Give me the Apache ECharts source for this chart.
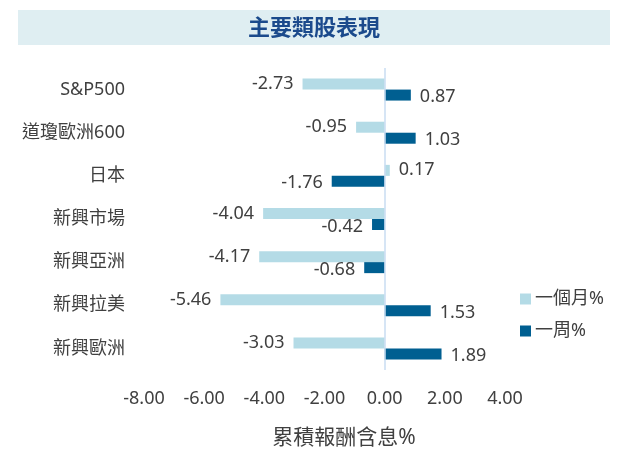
<!DOCTYPE html>
<html>
<head>
<meta charset="utf-8">
<script src="https://cdn.jsdelivr.net/npm/echarts@6/dist/echarts.min.js"></script>
<style>html,body{margin:0;padding:0;background:#fff}#c{width:628px;height:456px}</style>
</head>
<body>
<div id="c"></div>
<script>
const categories = ['S&P500', '道瓊歐洲600', '日本', '新興市場', '新興亞洲', '新興拉美', '新興歐洲'];
const monthValues = [-2.73, -0.95, 0.17, -4.04, -4.17, -5.46, -3.03];
const weekValues = [0.87, 1.03, -1.76, -0.42, -0.68, 1.53, 1.89];
const seriesNames = ['一個月%', '一周%'];
const xTicks = { min: -8, max: 4, interval: 2 };
const titleText = '主要類股表現';
const axisTitle = '累積報酬含息%';

const FONT = '"Noto Sans", "Noto Sans CJK TC", sans-serif';
const TXT = '#404040';

function mkData(vals) {
  return vals.map(v => ({
    value: v,
    label: { position: v < 0 ? 'left' : 'right' }
  }));
}

const chart = echarts.init(document.getElementById('c'), null, { renderer: 'canvas' });
chart.setOption({
  animation: false,
  backgroundColor: '#ffffff',
  title: {
    text: titleText,
    left: 'center',
    top: 13,
    textStyle: { fontFamily: FONT, fontSize: 22, fontWeight: 'bold', color: '#1b4a8c' }
  },
  graphic: [
    { type: 'rect', z: -1, shape: { x: 18, y: 10, width: 592, height: 35 }, style: { fill: '#dfeef2' } },
    { type: 'text', x: 344, y: 438, style: { text: axisTitle, font: '21px ' + FONT, fill: TXT, align: 'center', verticalAlign: 'middle' } }
  ],
  legend: {
    orient: 'vertical',
    left: 515,
    top: 285,
    itemWidth: 11,
    itemHeight: 11,
    itemGap: 14,
    icon: 'rect',
    textStyle: { fontFamily: FONT, fontSize: 18, color: TXT, padding: [0, 0, 0, -1] },
    data: seriesNames
  },
  grid: { left: 144, right: 123, top: 68, bottom: 86 },
  xAxis: {
    type: 'value',
    min: xTicks.min,
    max: xTicks.max,
    interval: xTicks.interval,
    axisLine: { show: false },
    axisTick: { show: false },
    splitLine: { show: false },
    axisLabel: {
      margin: 20,
      fontFamily: FONT, fontSize: 18, color: TXT,
      formatter: v => v.toFixed(2)
    }
  },
  yAxis: {
    type: 'category',
    inverse: true,
    data: categories,
    axisLine: { show: false },
    axisTick: { show: false },
    axisLabel: { margin: 19, fontFamily: FONT, fontSize: 18, color: TXT }
  },
  series: [
    {
      name: seriesNames[0],
      type: 'bar',
      data: mkData(monthValues),
      barWidth: 11,
      barGap: '0%',
      itemStyle: { color: '#b4dbe6' },
      label: { show: true, distance: 9, fontFamily: FONT, fontSize: 18, color: TXT, formatter: p => p.value.toFixed(2) },
      markLine: {
        silent: true,
        symbol: 'none',
        label: { show: false },
        lineStyle: { color: '#c8dcf2', width: 1.5, type: 'solid' },
        data: [{ xAxis: 0 }]
      }
    },
    {
      name: seriesNames[1],
      type: 'bar',
      data: mkData(weekValues),
      barWidth: 11,
      barGap: '0%',
      itemStyle: { color: '#005f91' },
      label: { show: true, distance: 9, offset: [0, 2], fontFamily: FONT, fontSize: 18, color: TXT, formatter: p => p.value.toFixed(2) }
    }
  ]
});
</script>
</body>
</html>
